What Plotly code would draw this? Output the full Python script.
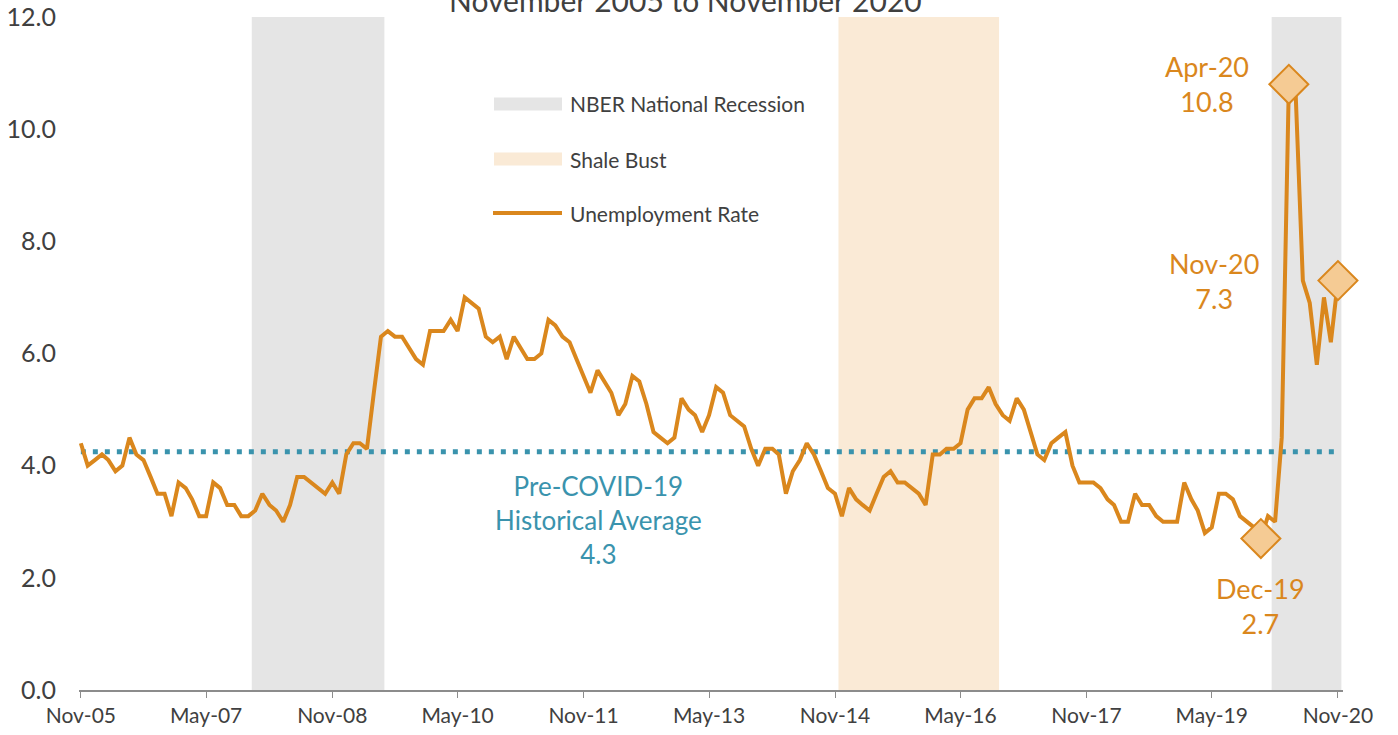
import pandas as pd
import plotly.graph_objects as go

# ---------------- data ----------------
start_month = "2005-11-01"
unemployment_rate = [
    4.4, 4.0, 4.1, 4.2, 4.1, 3.9, 4.0, 4.5, 4.2, 4.1, 3.8, 3.5,   # Nov05-Oct06
    3.5, 3.1, 3.7, 3.6, 3.4, 3.1, 3.1, 3.7, 3.6, 3.3, 3.3, 3.1,   # Nov06-Oct07
    3.1, 3.2, 3.5, 3.3, 3.2, 3.0, 3.3, 3.8, 3.8, 3.7, 3.6, 3.5,   # Nov07-Oct08
    3.7, 3.5, 4.2, 4.4, 4.4, 4.3, 5.3, 6.3, 6.4, 6.3, 6.3, 6.1,   # Nov08-Oct09
    5.9, 5.8, 6.4, 6.4, 6.4, 6.6, 6.4, 7.0, 6.9, 6.8, 6.3, 6.2,   # Nov09-Oct10
    6.3, 5.9, 6.3, 6.1, 5.9, 5.9, 6.0, 6.6, 6.5, 6.3, 6.2, 5.9,   # Nov10-Oct11
    5.6, 5.3, 5.7, 5.5, 5.3, 4.9, 5.1, 5.6, 5.5, 5.1, 4.6, 4.5,   # Nov11-Oct12
    4.4, 4.5, 5.2, 5.0, 4.9, 4.6, 4.9, 5.4, 5.3, 4.9, 4.8, 4.7,   # Nov12-Oct13
    4.3, 4.0, 4.3, 4.3, 4.2, 3.5, 3.9, 4.1, 4.4, 4.2, 3.9, 3.6,   # Nov13-Oct14
    3.5, 3.1, 3.6, 3.4, 3.3, 3.2, 3.5, 3.8, 3.9, 3.7, 3.7, 3.6,   # Nov14-Oct15
    3.5, 3.3, 4.2, 4.2, 4.3, 4.3, 4.4, 5.0, 5.2, 5.2, 5.4, 5.1,   # Nov15-Oct16
    4.9, 4.8, 5.2, 5.0, 4.6, 4.2, 4.1, 4.4, 4.5, 4.6, 4.0, 3.7,   # Nov16-Oct17
    3.7, 3.7, 3.6, 3.4, 3.3, 3.0, 3.0, 3.5, 3.3, 3.3, 3.1, 3.0,   # Nov17-Oct18
    3.0, 3.0, 3.7, 3.4, 3.2, 2.8, 2.9, 3.5, 3.5, 3.4, 3.1, 3.0,   # Nov18-Oct19
    2.9, 2.7, 3.1, 3.0, 4.5, 10.8, 10.6, 7.3, 6.9, 5.8, 7.0, 6.2,  # Nov19-Oct20
    7.3,                                                          # Nov20
]
pre_covid_average = 4.25
pre_covid_label = "4.3"

nber_recessions = [("2007-12-01", "2009-06-01"), ("2020-02-01", "2020-11-01")]
shale_bust = [("2014-12-01", "2016-10-01")]

highlight_labels = ["Dec-19", "Apr-20", "Nov-20"]
highlight_dates = ["2019-12-01", "2020-04-01", "2020-11-01"]
highlight_values = [2.7, 10.8, 7.3]

y_tick_values = [0, 2, 4, 6, 8, 10, 12]
title_text = "November 2005 to November 2020"

# ---------------- styles ----------------
ORANGE = "#DA871D"
DIAMOND_FILL = "#F5CB94"
TEAL = "#3A93AD"
GRAY_BAND = "#E5E5E5"
SHALE_BAND = "#FAEAD6"
TEXT = "#404040"
FONT = "Lato"

L, R, T, B = 79, 55, 17, 45
PW, PH = 1398 - L - R, 735 - T - B

months = pd.date_range(start_month, periods=len(unemployment_rate), freq="MS")
half = pd.Timedelta(days=15)

fig = go.Figure()

# shaded bands
for s, e in nber_recessions:
    fig.add_vrect(x0=pd.Timestamp(s) - half, x1=pd.Timestamp(e) + half,
                  fillcolor=GRAY_BAND, opacity=1, line_width=0, layer="below")
for s, e in shale_bust:
    fig.add_vrect(x0=pd.Timestamp(s) - half, x1=pd.Timestamp(e) + half,
                  fillcolor=SHALE_BAND, opacity=1, line_width=0, layer="below")

# pre-covid average (dotted)
fig.add_trace(go.Scatter(
    x=[months[0], months[-1]], y=[pre_covid_average, pre_covid_average],
    mode="lines", line=dict(color=TEAL, width=5, dash="5px,7px"),
    hoverinfo="skip", showlegend=False))

# unemployment rate line
fig.add_trace(go.Scatter(
    x=months, y=unemployment_rate, mode="lines",
    line=dict(color=ORANGE, width=4), name="Unemployment Rate",
    showlegend=False))

# highlight diamonds
fig.add_trace(go.Scatter(
    x=pd.to_datetime(highlight_dates), y=highlight_values, mode="markers",
    marker=dict(symbol="diamond", size=30, color=DIAMOND_FILL,
                line=dict(color=ORANGE, width=2)),
    cliponaxis=False, showlegend=False, hoverinfo="skip"))

# highlight labels
label_shifts = {"Dec-19": (0, -67), "Apr-20": (-82, 0), "Nov-20": (-124, 0)}
for lab, d, v in zip(highlight_labels, highlight_dates, highlight_values):
    xs, ys = label_shifts[lab]
    fig.add_annotation(x=pd.Timestamp(d), y=v, xref="x", yref="y",
                       text=f"{lab}<br>{v:.1f}", showarrow=False,
                       xshift=xs, yshift=ys, align="center",
                       font=dict(family=FONT, size=27, color=ORANGE))

# average label
fig.add_annotation(x=(598 - L) / PW, y=pre_covid_average, xref="paper", yref="y",
                   text=f"Pre-COVID-19<br>Historical Average<br>{pre_covid_label}",
                   showarrow=False, yshift=-68, align="center",
                   font=dict(family=FONT, size=26, color=TEAL))

# custom legend
legend_items = [("NBER National Recession", "rect", GRAY_BAND, 104),
                ("Shale Bust", "rect", SHALE_BAND, 159),
                ("Unemployment Rate", "line", ORANGE, 213)]
for text, kind, col, ypix in legend_items:
    yc = 1 - (ypix - T) / PH
    if kind == "rect":
        fig.add_shape(type="rect", xref="paper", yref="paper",
                      x0=(494 - L) / PW, x1=(562 - L) / PW,
                      y0=yc - 6.5 / PH, y1=yc + 6.5 / PH,
                      fillcolor=col, line_width=0)
    else:
        fig.add_shape(type="line", xref="paper", yref="paper",
                      x0=(493 - L) / PW, x1=(562 - L) / PW,
                      y0=yc, y1=yc, line=dict(color=col, width=4))
    fig.add_annotation(x=(568 - L) / PW, y=yc, xref="paper", yref="paper",
                       text=text, showarrow=False, xanchor="left",
                       yanchor="middle",
                       font=dict(family=FONT, size=21, color=TEXT))

# title (cut by the top edge as in the reference)
fig.add_annotation(x=(685 - L) / PW, y=1, xref="paper", yref="paper", text=title_text,
                   showarrow=False, yanchor="middle", yshift=17,
                   font=dict(family=FONT, size=30, color=TEXT))

fig.update_layout(
    width=1398, height=735,
    margin=dict(l=L, r=R, t=T, b=B),
    plot_bgcolor="white", paper_bgcolor="white",
    font=dict(family=FONT, color=TEXT),
    showlegend=False,
)
fig.update_xaxes(
    type="date", automargin=False,
    range=[pd.Timestamp(start_month) - pd.Timedelta(days=8),
           months[-1] + pd.Timedelta(days=22)],
    tick0=start_month, dtick="M18", tickformat="%b-%y",
    ticks="outside", ticklen=6, tickcolor="#8C8C8C",
    showline=True, linecolor="#8C8C8C", linewidth=1.5,
    showgrid=False, zeroline=False,
    tickfont=dict(family=FONT, size=21, color=TEXT),
)
fig.update_yaxes(
    range=[0, 12], tickvals=y_tick_values, tickformat=".1f", automargin=False,
    showgrid=False, zeroline=False, showline=False,
    ticklabelstandoff=22,
    tickfont=dict(family=FONT, size=25, color=TEXT),
)

fig.write_html("out.html", config={"displayModeBar": False},
               post_script="document.body.style.margin='0';document.body.style.overflow='hidden';")
